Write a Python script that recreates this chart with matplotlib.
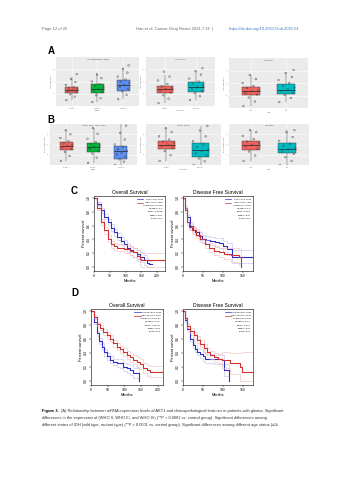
import matplotlib
matplotlib.use("Agg")
import matplotlib.pyplot as plt
import numpy as np

plt.rcParams['font.family'] = ['Liberation Sans', 'DejaVu Sans']

W, H = 353, 480
fig = plt.figure(figsize=(W / 100, H / 100), dpi=100)
fig.patch.set_facecolor('white')


def px_axes(x0, y0, x1, y1):
    return fig.add_axes([x0 / W, 1 - y1 / H, (x1 - x0) / W, (y1 - y0) / H])


def px_text(x, y, s, **kw):
    fig.text(x / W, 1 - y / H, s, **kw)


# ---------------- data: boxplots (panels A and B) ----------------
grade_names = ["WHO II", "WHO III", "WHO IV"]
idh_names = ["Mutant", "Wildtype"]
age_names = ["<=41", ">41"]

a1_q1 = [2.7, 2.7, 3.1]
a1_med = [3.3, 3.5, 4.3]
a1_q3 = [3.9, 4.5, 5.3]
a1_lo = [1.2, 0.8, 1.4]
a1_hi = [5.9, 6.7, 7.8]
a1_pts = [[1.2, 1.9, 2.4, 2.8, 3.0, 3.2, 3.4, 3.6, 3.8, 4.3, 4.9, 5.5, 6.5],
          [0.8, 1.6, 2.2, 2.9, 3.2, 3.5, 3.8, 4.1, 4.4, 5.0, 5.7, 6.4],
          [1.4, 2.3, 3.0, 3.5, 3.9, 4.3, 4.7, 5.0, 5.4, 6.0, 6.8, 7.6, 8.3]]

a2_q1 = [2.7, 2.9]
a2_med = [3.4, 3.9]
a2_q3 = [4.1, 4.9]
a2_lo = [0.6, 1.2]
a2_hi = [6.3, 7.1]
a2_pts = [[0.6, 1.5, 2.2, 2.8, 3.1, 3.4, 3.7, 4.0, 4.5, 5.2, 6.0, 7.0],
          [1.2, 2.0, 2.6, 3.0, 3.4, 3.8, 4.2, 4.6, 5.0, 5.6, 6.4, 7.1, 7.7]]

a3_q1 = [2.6, 2.8]
a3_med = [3.4, 3.7]
a3_q3 = [4.2, 4.8]
a3_lo = [0.4, 1.2]
a3_hi = [6.6, 7.0]
a3_pts = [[0.4, 1.3, 2.1, 2.7, 3.0, 3.3, 3.6, 4.0, 4.4, 5.0, 5.8, 6.6],
          [1.2, 2.0, 2.6, 3.0, 3.4, 3.7, 4.1, 4.5, 5.0, 5.6, 6.2, 7.0, 7.6]]

b1_q1 = [3.75, 3.25, 1.5]
b1_med = [4.6, 4.4, 3.3]
b1_q3 = [5.5, 5.25, 4.75]
b1_lo = [1.0, 0.5, 0.0]
b1_hi = [8.5, 9.0, 10.0]
b1_pts = [[1.0, 2.2, 3.2, 3.9, 4.3, 4.6, 4.9, 5.3, 5.8, 6.6, 7.5, 8.5],
          [0.5, 1.8, 2.8, 3.4, 3.9, 4.4, 4.8, 5.1, 5.6, 6.4, 7.6, 9.0],
          [0.0, 0.8, 1.4, 2.0, 2.6, 3.0, 3.4, 3.9, 4.4, 5.0, 6.2, 7.8, 9.6]]

b2_q1 = [4.0, 2.0]
b2_med = [4.9, 3.6]
b2_q3 = [5.75, 5.25]
b2_lo = [1.0, 0.0]
b2_hi = [9.0, 9.5]
b2_pts = [[1.0, 2.4, 3.4, 4.2, 4.6, 5.0, 5.3, 5.7, 6.2, 7.0, 8.0, 9.0],
          [0.0, 0.9, 1.6, 2.3, 2.9, 3.4, 3.9, 4.4, 5.0, 5.8, 7.0, 8.4, 9.5]]

b3_q1 = [3.75, 3.0]
b3_med = [4.8, 4.0]
b3_q3 = [5.75, 5.25]
b3_lo = [1.0, 0.0]
b3_hi = [8.5, 8.5]
b3_pts = [[1.0, 2.3, 3.3, 4.0, 4.5, 4.9, 5.3, 5.7, 6.3, 7.1, 8.0, 8.5],
          [0.0, 1.0, 1.9, 2.7, 3.3, 3.8, 4.2, 4.7, 5.2, 5.9, 6.8, 8.0, 8.5]]

# ---------------- data: Kaplan-Meier curves (panels C and D) ----------------
c1_low_t = [0, 10, 22, 32, 43, 53, 63, 74, 84, 94, 104, 115, 125, 136, 146, 157, 167, 175, 183]
c1_low_s = [1.0, 0.92, 0.82, 0.73, 0.65, 0.57, 0.50, 0.44, 0.38, 0.33, 0.28, 0.24, 0.21, 0.18, 0.14, 0.10, 0.06, 0.04, 0.04]
c1_low_ci = [0.0, 0.02, 0.03, 0.04, 0.045, 0.05, 0.05, 0.055, 0.055, 0.06, 0.06, 0.065, 0.07, 0.07, 0.07, 0.07, 0.06, 0.05, 0.05]
c1_high_t = [0, 10, 22, 32, 43, 53, 63, 74, 94, 115, 125, 136, 146, 150, 225]
c1_high_s = [1.0, 0.85, 0.65, 0.53, 0.41, 0.33, 0.30, 0.28, 0.26, 0.235, 0.21, 0.16, 0.12, 0.10, 0.10]
c1_high_ci = [0.0, 0.03, 0.04, 0.045, 0.05, 0.05, 0.05, 0.05, 0.055, 0.06, 0.07, 0.08, 0.09, 0.1, 0.1]

c2_low_t = [0, 5, 10, 18, 25, 30, 40, 47, 58, 68, 80, 89, 100, 110, 122, 176]
c2_low_s = [1.0, 0.85, 0.72, 0.60, 0.54, 0.50, 0.45, 0.41, 0.39, 0.38, 0.36, 0.35, 0.30, 0.26, 0.15, 0.15]
c2_low_ci = [0.0, 0.03, 0.04, 0.05, 0.05, 0.05, 0.055, 0.06, 0.06, 0.06, 0.065, 0.07, 0.08, 0.09, 0.1, 0.1]
c2_high_t = [0, 5, 10, 16, 22, 32, 43, 55, 66, 77, 90, 103, 120, 141, 146]
c2_high_s = [1.0, 0.82, 0.65, 0.58, 0.53, 0.47, 0.41, 0.33, 0.28, 0.235, 0.21, 0.19, 0.17, 0.14, 0.0]
c2_high_ci = [0.0, 0.03, 0.04, 0.05, 0.05, 0.05, 0.055, 0.06, 0.06, 0.065, 0.07, 0.08, 0.1, 0.12, 0.0]

d1_low_t = [0, 8, 17, 25, 32, 40, 47, 57, 67, 77, 87, 97, 107, 117, 127, 137, 145]
d1_low_s = [1.0, 0.85, 0.68, 0.57, 0.49, 0.41, 0.35, 0.30, 0.27, 0.26, 0.25, 0.20, 0.18, 0.16, 0.11, 0.11, 0.0]
d1_low_ci = [0.0, 0.03, 0.04, 0.045, 0.05, 0.05, 0.05, 0.05, 0.05, 0.055, 0.06, 0.06, 0.065, 0.07, 0.07, 0.07, 0.0]
d1_high_t = [0, 8, 17, 27, 37, 47, 57, 67, 77, 87, 97, 107, 117, 127, 137, 147, 157, 167, 177, 212]
d1_high_s = [1.0, 0.92, 0.82, 0.76, 0.70, 0.65, 0.60, 0.54, 0.49, 0.45, 0.41, 0.37, 0.34, 0.30, 0.27, 0.24, 0.18, 0.15, 0.13, 0.13]
d1_high_ci = [0.0, 0.02, 0.03, 0.035, 0.04, 0.045, 0.05, 0.05, 0.055, 0.055, 0.06, 0.06, 0.065, 0.065, 0.07, 0.07, 0.075, 0.08, 0.08, 0.08]

d2_low_t = [0, 5, 10, 18, 24, 30, 36, 43, 50, 56, 77, 98, 103, 115]
d2_low_s = [1.0, 0.87, 0.74, 0.60, 0.52, 0.46, 0.42, 0.39, 0.35, 0.32, 0.31, 0.30, 0.155, 0.0]
d2_low_ci = [0.0, 0.03, 0.04, 0.05, 0.05, 0.05, 0.055, 0.06, 0.06, 0.06, 0.065, 0.07, 0.09, 0.0]
d2_high_t = [0, 5, 10, 18, 27, 35, 43, 52, 60, 68, 77, 88, 98, 118, 143, 148, 175]
d2_high_s = [1.0, 0.90, 0.79, 0.72, 0.65, 0.59, 0.53, 0.47, 0.41, 0.37, 0.34, 0.32, 0.30, 0.25, 0.20, 0.12, 0.12]
d2_high_ci = [0.0, 0.02, 0.03, 0.04, 0.045, 0.05, 0.05, 0.055, 0.06, 0.06, 0.065, 0.07, 0.12, 0.15, 0.2, 0.3, 0.3]

c1_stats = ["Logrank p=0.0083", "HR(high)=1.4", "p(HR)=0.0088", "n(high)=336", "n(low)=336"]
c2_stats = ["Logrank p=0.024", "HR(high)=1.3", "p(HR)=0.024", "n(high)=336", "n(low)=336"]
d1_stats = ["Logrank p=6.8e-07", "HR(high)=0.47", "p(HR)=1.3e-06", "n(high)=336", "n(low)=336"]
d2_stats = ["Logrank p=0.047", "HR(high)=0.74", "p(HR)=0.047", "n(high)=336", "n(low)=336"]

# ---------------- page header ----------------
px_text(42, 29, "Page 12 of 25", fontsize=3.0, color='#666666', va='center')
px_text(136, 29, "Han et al. Cancer Drug Resist 2021;7:16  |", fontsize=3.0,
        color='#666666', va='center')
px_text(229, 29, "https://dx.doi.org/10.20517/cdr.2021.01", fontsize=3.0,
        color='#3A78C0', va='center')

# ---------------- panel letters ----------------
for lab, x, y in [("A", 48, 51), ("B", 47, 120), ("C", 71, 191), ("D", 71, 293)]:
    px_text(x, y, lab, fontsize=7, fontweight='bold', va='center')

RED, GREEN, BLUE, CYAN = '#F0625C', '#00B83A', '#5B8EF0', '#00BCC2'
jit = [-0.2, 0.12, -0.05, 0.18, -0.14, 0.03, 0.22, -0.1, 0.08, -0.22, 0.15, -0.02, 0.2]


def gg_box(box, names, colors, q1, med, q3, lo, hi, pts, title, ylab, xlab):
    ax = px_axes(*box)
    ax.set_facecolor('#EBEBEB')
    stats = []
    for i in range(len(names)):
        stats.append(dict(med=med[i], q1=q1[i], q3=q3[i], whislo=lo[i],
                          whishi=hi[i], fliers=[]))
    pos = np.arange(1, len(names) + 1)
    bp = ax.bxp(stats, positions=pos, widths=0.5, patch_artist=True,
                showfliers=False,
                boxprops=dict(linewidth=0.3, edgecolor='#333333'),
                medianprops=dict(color='#222222', linewidth=0.5),
                whiskerprops=dict(color='#333333', linewidth=0.3),
                capprops=dict(linewidth=0))
    for patch, c in zip(bp['boxes'], colors):
        patch.set_facecolor(c)
    for i, vals in enumerate(pts):
        xs = [pos[i] + jit[k % len(jit)] for k in range(len(vals))]
        ax.scatter(xs, vals, s=1.5, facecolors='none', edgecolors='#444444',
                   linewidths=0.3, zorder=5)
    ax.set_xlim(0.4, len(names) + 0.6)
    ax.set_ylim(0, 10)
    ax.set_yticks([2.5, 5, 7.5])
    ax.set_yticklabels(["2", "4", "6"])
    ax.set_xticks(pos)
    ax.set_xticklabels(names)
    ax.tick_params(labelsize=1.3, length=0.6, width=0.2, pad=0.8, colors='#666666')
    ax.grid(color='white', linewidth=0.4)
    ax.set_axisbelow(True)
    for s in ax.spines.values():
        s.set_visible(False)
    ax.text(0.5, 0.97, title, transform=ax.transAxes, fontsize=1.4,
            ha='center', va='top', color='#444444')
    ax.set_ylabel(ylab, fontsize=1.3, labelpad=1, color='#555555')
    ax.set_xlabel(xlab, fontsize=1.3, labelpad=0.8, color='#555555')
    return ax


gg_box((56, 57, 139, 106), grade_names, [RED, GREEN, BLUE], a1_q1, a1_med, a1_q3,
       a1_lo, a1_hi, a1_pts, "AKT1 expression by grade", "AKT1 expression", "Grade")
gg_box((146, 57, 215, 106), idh_names, [RED, CYAN], a2_q1, a2_med, a2_q3,
       a2_lo, a2_hi, a2_pts, "AKT1 by IDH", "AKT1 expression", "IDH status")
gg_box((229, 58, 308, 108), age_names, [RED, CYAN], a3_q1, a3_med, a3_q3,
       a3_lo, a3_hi, a3_pts, "Age status", "AKT1 expression", "Age")
gg_box((50, 124, 137, 165), grade_names, [RED, GREEN, BLUE], b1_q1, b1_med, b1_q3,
       b1_lo, b1_hi, b1_pts, "MAPK1 expression by grade", "MAPK1 expression", "Grade")
gg_box((146, 124, 221, 165), idh_names, [RED, CYAN], b2_q1, b2_med, b2_q3,
       b2_lo, b2_hi, b2_pts, "MAPK1 by IDH", "MAPK1 expression", "IDH status")
gg_box((229, 124, 309, 165), age_names, [RED, CYAN], b3_q1, b3_med, b3_q3,
       b3_lo, b3_hi, b3_pts, "Age status", "MAPK1 expression", "Age")

KM_BLUE, KM_RED = '#2F2FC8', '#D03030'
KM_LBLUE, KM_LRED = '#BDBDEE', '#F2B8B8'


def km_plot(box, xmax, title, gene, low, high, stats_txt):
    ax = px_axes(*box)
    for (t, s, ci), c, lc in [(low, KM_BLUE, KM_LBLUE), (high, KM_RED, KM_LRED)]:
        s = np.array(s)
        ci = np.array(ci)
        ax.step(t, np.clip(s + ci, 0, 1), where='post', color=lc, lw=0.4)
        ax.step(t, np.clip(s - ci, 0, 1), where='post', color=lc, lw=0.4)
        ax.step(t, s, where='post', color=c, lw=0.8)
    ax.set_xlim(0, xmax)
    ax.set_ylim(-0.06, 1.03)
    ax.set_yticks([0, 0.2, 0.4, 0.6, 0.8, 1.0])
    ax.set_yticklabels(["0.0", "0.2", "0.4", "0.6", "0.8", "1.0"], rotation=90, va='center')
    ax.set_xticks([v for v in [0, 50, 100, 150, 200] if v <= xmax])
    ax.tick_params(labelsize=2.4, length=1.2, width=0.3, pad=1)
    for sp in ax.spines.values():
        sp.set_linewidth(0.4)
    ax.set_title(title, fontsize=3.6, pad=1.5)
    ax.set_xlabel("Months", fontsize=2.8, labelpad=1)
    ax.set_ylabel("Percent survival", fontsize=2.8, labelpad=1)
    # legend block
    y0 = 0.955
    for lab, c in [("Low %s TPM" % gene, KM_BLUE), ("High %s TPM" % gene, KM_RED)]:
        ax.plot([0.6, 0.69], [y0, y0], transform=ax.transAxes, color=c, lw=0.5)
        ax.text(0.97, y0, lab, transform=ax.transAxes, fontsize=1.7,
                ha='right', va='center')
        y0 -= 0.042
    for lab in stats_txt:
        ax.text(0.97, y0, lab, transform=ax.transAxes, fontsize=1.7,
                ha='right', va='center')
        y0 -= 0.042
    return ax


km_plot((94, 196, 165, 271), 225, "Overall Survival", "AKT1",
        (c1_low_t, c1_low_s, c1_low_ci), (c1_high_t, c1_high_s, c1_high_ci), c1_stats)
km_plot((183, 196, 253, 271), 175, "Disease Free Survival", "AKT1",
        (c2_low_t, c2_low_s, c2_low_ci), (c2_high_t, c2_high_s, c2_high_ci), c2_stats)
km_plot((91, 309, 163, 385), 216, "Overall Survival", "MAPK1",
        (d1_low_t, d1_low_s, d1_low_ci), (d1_high_t, d1_high_s, d1_high_ci), d1_stats)
km_plot((183, 309, 253, 385), 175, "Disease Free Survival", "MAPK1",
        (d2_low_t, d2_low_s, d2_low_ci), (d2_high_t, d2_high_s, d2_high_ci), d2_stats)

# ---------------- caption ----------------
cap_lines = [
    "(A) Relationship between mRNA expression levels of AKT1 and clinicopathological features in patients with glioma. Significant",
    "differences in the expression of (WHO II, WHO III, and WHO IV) (**P < 0.0001 vs. control group). Significant differences among",
    "different states of IDH (wild type, mutant type) (**P < 0.0001 vs. control group). Significant differences among different age status (\u2264/\u2265",
]
px_text(42, 411, "Figure 3.", fontsize=2.9, fontweight='bold', va='center')
px_text(61, 411, cap_lines[0], fontsize=2.9, va='center', color='#333333')
px_text(42, 418, cap_lines[1], fontsize=2.9, va='center', color='#333333')
px_text(42, 425, cap_lines[2], fontsize=2.9, va='center', color='#333333')

fig.savefig("out.png", dpi=100, facecolor='white')
